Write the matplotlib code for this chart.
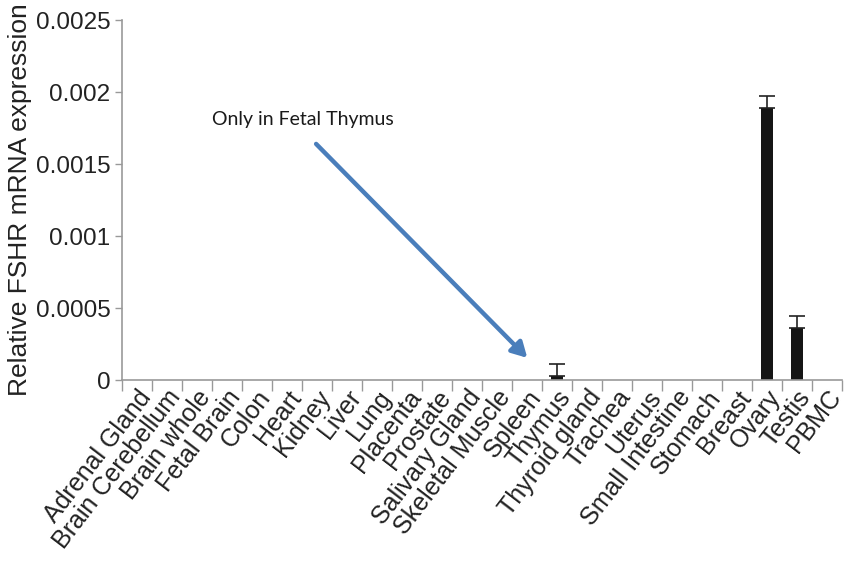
import matplotlib
matplotlib.use("Agg")
import matplotlib.pyplot as plt
import matplotlib.transforms as mtransforms
import numpy as np

tissues = ["Adrenal Gland", "Brain Cerebellum", "Brain whole", "Fetal Brain", "Colon",
           "Heart", "Kidney", "Liver", "Lung", "Placenta", "Prostate", "Salivary Gland",
           "Skeletal Muscle", "Spleen", "Thymus", "Thyroid gland", "Trachea", "Uterus",
           "Small Intestine", "Stomach", "Breast", "Ovary", "Testis", "PBMC"]
expression = [0, 0, 0, 0, 0, 0, 0, 0, 0, 0, 0, 0, 0, 0, 0.00003, 0, 0, 0, 0, 0, 0,
              0.00189, 0.000365, 0]
errors = [0, 0, 0, 0, 0, 0, 0, 0, 0, 0, 0, 0, 0, 0, 0.00008, 0, 0, 0, 0, 0, 0,
          0.00008, 0.00008, 0]
y_ticks = [0, 0.0005, 0.001, 0.0015, 0.002, 0.0025]
y_tick_labels = ["0", "0.0005", "0.001", "0.0015", "0.002", "0.0025"]
note_text = "Only in Fetal Thymus"
note_xy = (5.53, 0.00181)
arrow_start = (5.98, 0.00164)
arrow_end = (13.02, 0.000155)

plt.rcParams['font.family'] = ['Liberation Sans', 'DejaVu Sans']

fig = plt.figure(figsize=(8.44, 5.65), dpi=100)
ax = fig.add_axes([0.1442, 0.327, 0.8531, 0.6376])

x = np.arange(len(tissues))
yerr_low = np.zeros(len(errors))
yerr_high = np.array(errors)
ax.bar(x, expression, width=0.4, color="#151515", zorder=2)
mask = yerr_high > 0
ax.errorbar(x[mask], np.array(expression)[mask], yerr=[yerr_low[mask], yerr_high[mask]],
            fmt="none", ecolor="#222222", elinewidth=1.2, capsize=6, capthick=1.2, zorder=3)

ax.set_xlim(-0.5, len(tissues) - 0.5)
ax.set_ylim(0, 0.0025)
ax.set_yticks(y_ticks)
ax.set_yticklabels(y_tick_labels, fontsize=17.5, color="#222222")
ax.set_xticks(x)
ax.set_xticklabels(tissues, rotation=52.5, ha="right", va="top", rotation_mode="anchor",
                   fontsize=18, color="#222222")
shift = mtransforms.ScaledTranslation(-6 / 100, 0, fig.dpi_scale_trans)
for lbl in ax.get_xticklabels():
    lbl.set_transform(lbl.get_transform() + shift)
ax.set_xticks(np.arange(len(tissues) + 1) - 0.5, minor=True)
ax.tick_params(axis="x", which="major", length=0, pad=4)
ax.tick_params(axis="x", which="minor", length=8, color="#999999", width=1)
ax.tick_params(axis="y", length=5, color="#999999", width=1, pad=3)

for s in ["top", "right"]:
    ax.spines[s].set_visible(False)
for s in ["left", "bottom"]:
    ax.spines[s].set_color("#999999")
    ax.spines[s].set_linewidth(1.2)

ax.set_ylabel("Relative FSHR mRNA expression", fontsize=19, color="#222222", labelpad=3)

ax.text(note_xy[0], note_xy[1], note_text, ha="center", va="center", fontsize=14,
        family=["Lato", "DejaVu Sans"], color="#1a1a1a")
ax.annotate("", xy=arrow_end, xytext=arrow_start,
            arrowprops=dict(arrowstyle="-|>,head_length=0.9,head_width=0.5",
                            color="#4a7ebb", lw=3.2, shrinkA=0, shrinkB=0))

fig.savefig("out.png", dpi=100)
